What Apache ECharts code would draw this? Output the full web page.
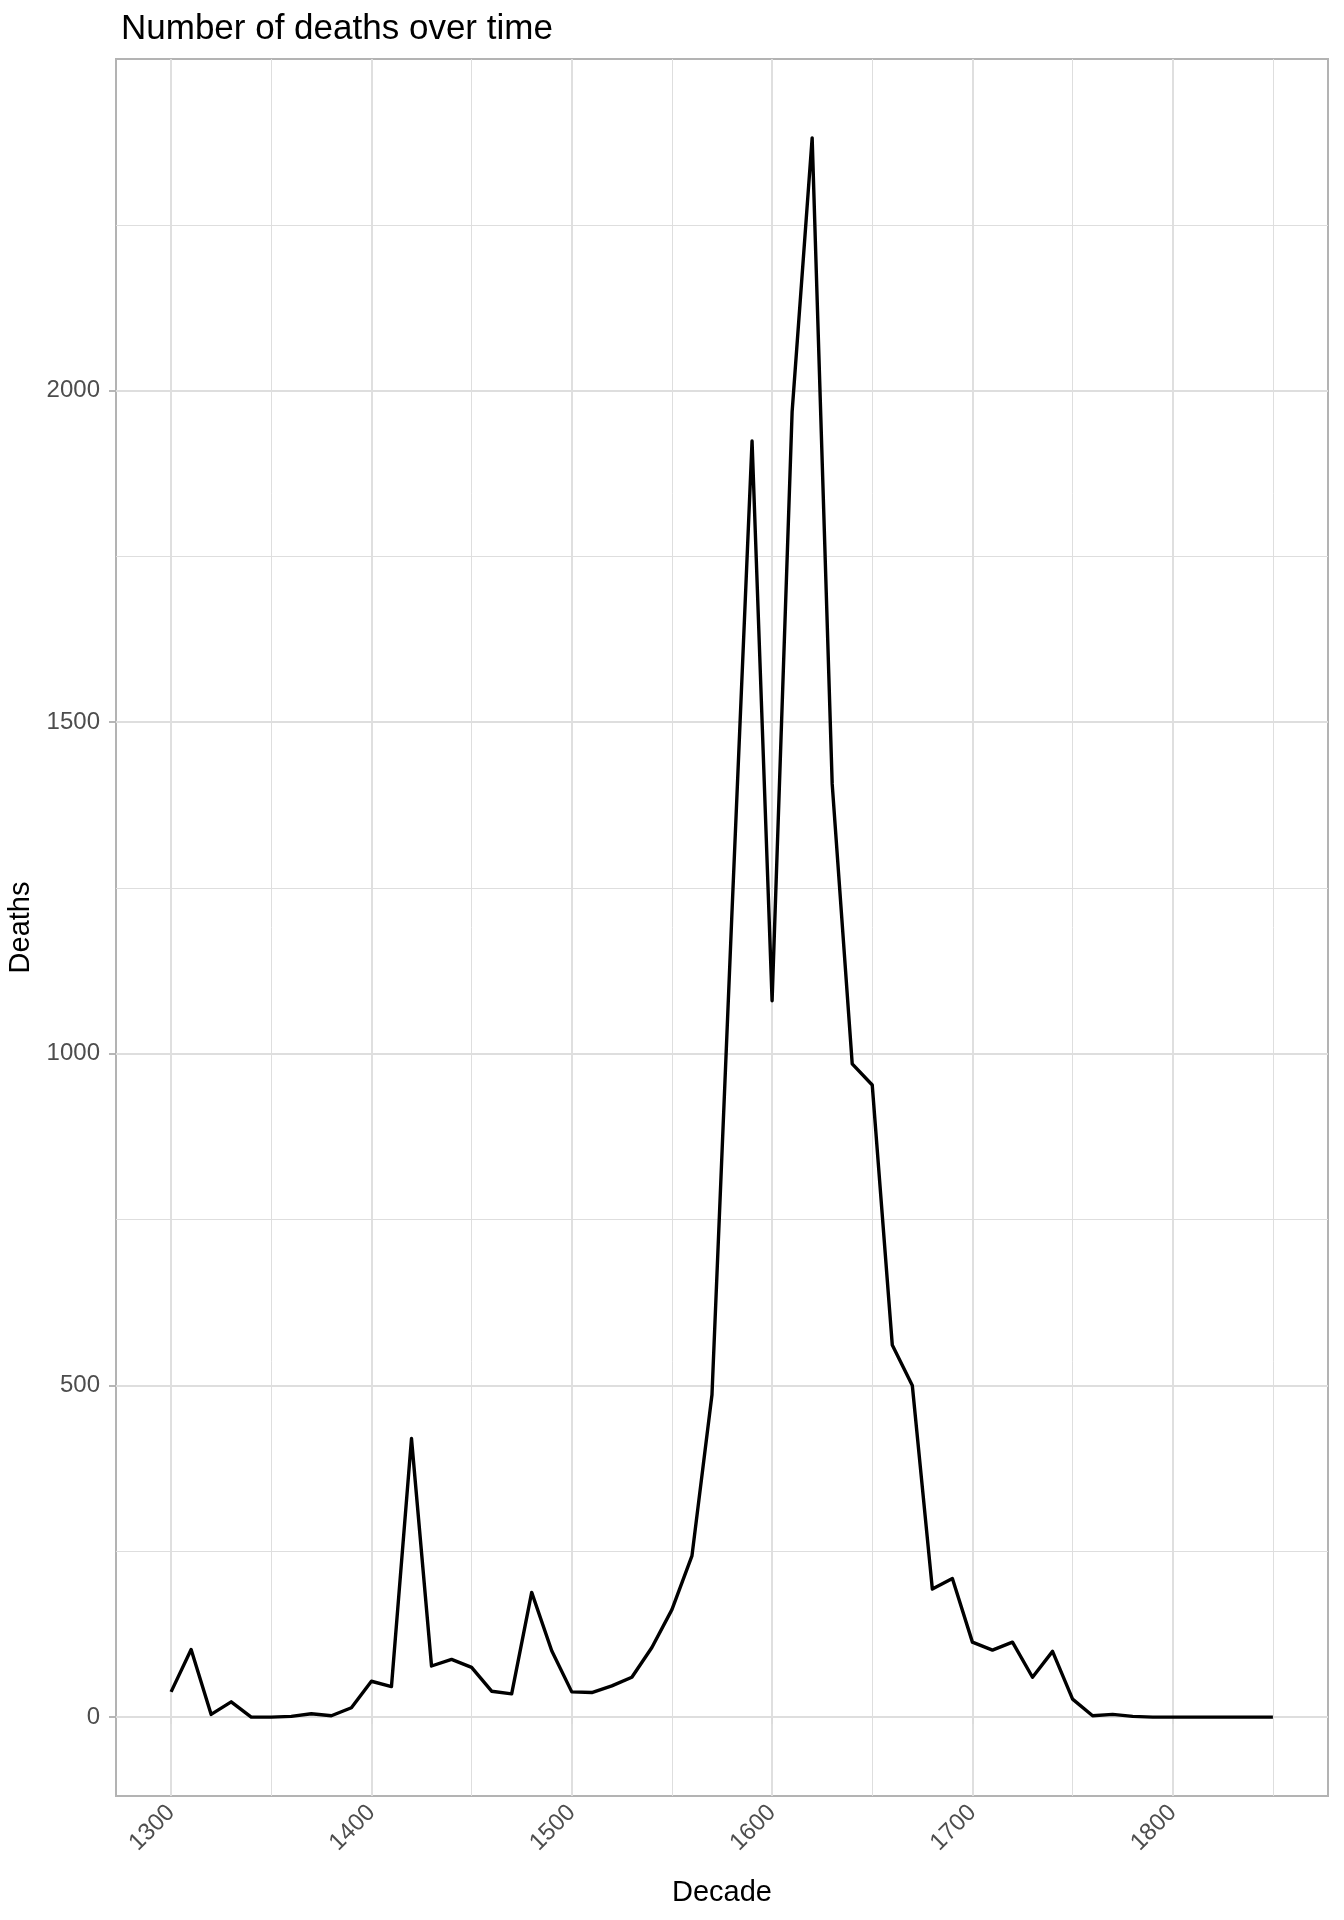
<!DOCTYPE html>
<html>
<head>
<meta charset="utf-8">
<script src="https://cdn.jsdelivr.net/npm/echarts@6/dist/echarts.min.js"></script>
<style>
html,body{margin:0;padding:0;background:#fff;}
#chart{width:1344px;height:1920px;}
</style>
</head>
<body>
<div id="chart"></div>
<script>
const decades = [1300,1310,1320,1330,1340,1350,1360,1370,1380,1390,
  1400,1410,1420,1430,1440,1450,1460,1470,1480,1490,
  1500,1510,1520,1530,1540,1550,1560,1570,1580,1590,
  1600,1610,1620,1630,1640,1650,1660,1670,1680,1690,
  1700,1710,1720,1730,1740,1750,1760,1770,1780,1790,
  1800,1810,1820,1830,1840,1850];
const deaths = [38,102,4,23,0,0,1,5,2,14,
  54,46,420,77,87,75,39,35,188,100,
  38,37,47,60,105,162,243,486,1215,1924,
  1080,1968,2381,1407,985,953,561,500,193,209,
  113,101,113,60,99,27,2,4,1,0,
  0,0,0,0,0,0];
const xTickLabels = [1300,1400,1500,1600,1700,1800];
const yTickLabels = [0,500,1000,1500,2000];
const xMinorBreaks = [1350,1450,1550,1650,1750,1850];
const yMinorBreaks = [250,750,1250,1750,2250];

const xMin = 1272.5, xMax = 1877.5;
const yMin = -119, yMax = 2500;

const majorStyle = {color:'#dedede', width:1.9, type:'solid'};
const minorStyle = {color:'#dedede', width:1, type:'solid'};

const gridLines = []
  .concat(xTickLabels.map(v => ({xAxis:v, lineStyle:majorStyle})))
  .concat(xMinorBreaks.map(v => ({xAxis:v, lineStyle:minorStyle})))
  .concat(yTickLabels.map(v => ({yAxis:v, lineStyle:majorStyle})))
  .concat(yMinorBreaks.map(v => ({yAxis:v, lineStyle:minorStyle})));

const plain = v => String(Math.round(v));

const chart = echarts.init(document.getElementById('chart'), null, {renderer:'canvas'});
chart.setOption({
  animation:false,
  backgroundColor:'#ffffff',
  textStyle:{fontFamily:'"Liberation Sans", Arial, sans-serif'},
  title:{
    text:'Number of deaths over time',
    left:116, top:7,
    textStyle:{fontSize:35, fontWeight:'normal', color:'#000', fontFamily:'"Liberation Sans", Arial, sans-serif'}
  },
  grid:{left:116, right:16, top:59, bottom:124, show:true, borderColor:'#b3b3b3', borderWidth:2,
        backgroundColor:'transparent', containLabel:false, outerBoundsMode:'none'},
  xAxis:{
    type:'value', min:xMin, max:xMax,
    name:'Decade', nameLocation:'middle', nameGap:82,
    nameTextStyle:{fontSize:29, color:'#000'},
    axisLine:{show:false},
    splitLine:{show:false},
    axisTick:{show:true, customValues:xTickLabels, length:7, lineStyle:{color:'#b3b3b3', width:1.9}},
    axisLabel:{customValues:xTickLabels, formatter:plain, rotate:45, fontSize:24, color:'#4d4d4d', margin:13, padding:[23,0,0,0]}
  },
  yAxis:{
    type:'value', min:yMin, max:yMax,
    name:'Deaths', nameLocation:'middle', nameGap:68,
    nameTextStyle:{fontSize:29, color:'#000'},
    axisLine:{show:false},
    splitLine:{show:false},
    axisTick:{show:true, customValues:yTickLabels, length:7, lineStyle:{color:'#b3b3b3', width:1.9}},
    axisLabel:{customValues:yTickLabels, formatter:plain, fontSize:24, color:'#4d4d4d', margin:16}
  },
  series:[
    {
      type:'line', data:[], z:1, silent:true,
      markLine:{silent:true, symbol:['none','none'], label:{show:false}, animation:false, data:gridLines}
    },
    {
      type:'line', z:10,
      data:decades.map((d,i)=>[d, deaths[i]]),
      showSymbol:false, symbol:'none',
      lineStyle:{color:'#000', width:3.4, join:'round'}
    }
  ]
});
</script>
</body>
</html>
